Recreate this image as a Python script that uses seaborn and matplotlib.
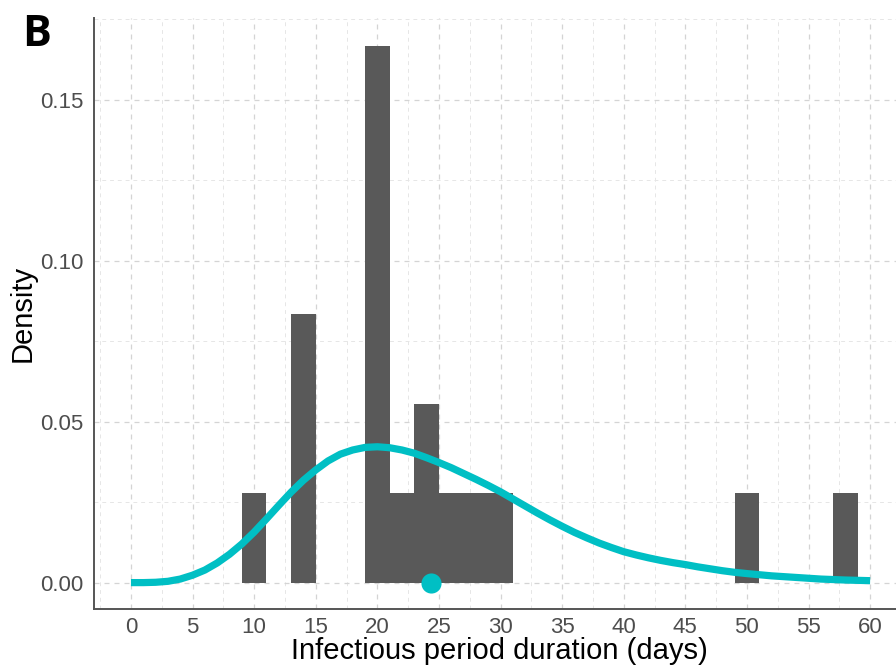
import numpy as np
import pandas as pd
import seaborn as sns
import matplotlib
matplotlib.use("Agg")
import matplotlib.pyplot as plt
from matplotlib.ticker import MultipleLocator

durations = [10, 14, 14, 14, 20, 20, 20, 20, 20, 20, 22, 24, 24, 26, 28, 30, 50, 58]

# Fitted density curve
curve_x = [0, 1, 2, 3, 4, 5, 6, 7, 8, 9, 10, 11, 12, 13, 14, 15, 16, 17, 18, 19,
           20, 21, 22, 23, 24, 25, 26, 27, 28, 29, 30, 31, 32, 33, 34, 35, 36, 37,
           38, 39, 40, 41, 42, 43, 44, 45, 46, 47, 48, 49, 50, 52, 54, 56, 58, 60]
curve_y = [0.0, 0.0, 0.0001, 0.0004, 0.0011, 0.0023, 0.0039, 0.0061, 0.0088,
           0.0120, 0.0157, 0.0198, 0.0240, 0.0281, 0.0318, 0.0350, 0.0378, 0.0399,
           0.0412, 0.0420, 0.0422, 0.0419, 0.0412, 0.0402, 0.0388, 0.0373, 0.0357,
           0.0339, 0.0321, 0.0302, 0.0282, 0.0260, 0.0238, 0.0216, 0.0195, 0.0175,
           0.0156, 0.0139, 0.0123, 0.0109, 0.0096, 0.0086, 0.0077, 0.0069, 0.0062,
           0.0056, 0.0049, 0.0043, 0.0037, 0.0032, 0.0028, 0.0021, 0.0016, 0.0011,
           0.0008, 0.0006]

mean_duration = 24.35

x_ticks = list(range(0, 61, 5))
y_ticks = [0.00, 0.05, 0.10, 0.15]
y_tick_labels = ["0.00", "0.05", "0.10", "0.15"]

sns.set_style("white")
plt.rcParams["font.family"] = ["Liberation Sans", "DejaVu Sans"]

fig = plt.figure(figsize=(8.96, 6.68), dpi=100)
ax = fig.add_axes([94 / 896, 59 / 668, 1 - 94 / 896, (609 - 18) / 668])

df = pd.DataFrame({"duration": durations})
sns.histplot(data=df, x="duration", stat="density", binwidth=2, binrange=(9, 59),
             color="#595959", alpha=1, linewidth=0, edgecolor="none", ax=ax, zorder=2)

cdf = pd.DataFrame({"x": curve_x, "y": curve_y})
sns.lineplot(data=cdf, x="x", y="y", color="#00BFC4", linewidth=5.2, ax=ax, zorder=3,
             solid_capstyle="butt", solid_joinstyle="round")

sns.scatterplot(x=[mean_duration], y=[0.0], color="#00BFC4", s=210, linewidth=0,
                ax=ax, zorder=4)

ax.set_xlim(-3, 62.1)
ax.set_ylim(-0.0082, 0.1754)
ax.set_xticks(x_ticks)
ax.set_xticklabels([str(t) for t in x_ticks])
ax.set_yticks(y_ticks)
ax.set_yticklabels(y_tick_labels)
ax.xaxis.set_minor_locator(MultipleLocator(2.5))
ax.yaxis.set_minor_locator(MultipleLocator(0.025))

ax.grid(which="major", color="#D4D4D4", linestyle=(0, (4, 4)), linewidth=0.9, zorder=0)
ax.grid(which="minor", color="#E6E6E6", linestyle=(0, (4, 4)), linewidth=0.7, zorder=0)
ax.set_axisbelow(True)

for s in ["top", "right"]:
    ax.spines[s].set_visible(False)
for s in ["left", "bottom"]:
    ax.spines[s].set_color("#555555")
    ax.spines[s].set_linewidth(1.4)

ax.tick_params(axis="both", which="major", length=4, width=1, color="#555555",
               labelcolor="#4D4D4D", labelsize=16, direction="out")
ax.tick_params(axis="x", which="major", pad=2)
ax.tick_params(axis="both", which="minor", length=0)

ax.set_xlabel("Infectious period duration (days)", fontsize=21, color="black")
ax.xaxis.set_label_coords(0.5 * (287 + 712 - 2 * 94) / (896 - 94), (609 - 659) / 591)
ax.xaxis.label.set_verticalalignment("baseline")
ax.set_ylabel("Density", fontsize=21, color="black", labelpad=2.5)

fig.text(22 / 896, 1 - 46 / 668, "B", fontsize=31, fontweight="bold",
         family=["Open Sans", "DejaVu Sans"], color="black")

fig.savefig("out.png", dpi=100)
